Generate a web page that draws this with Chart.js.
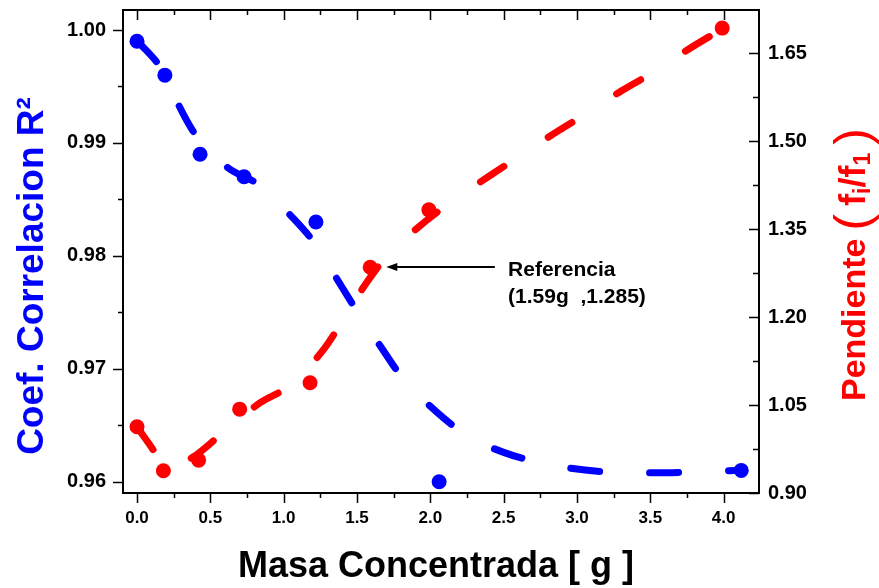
<!DOCTYPE html>
<html>
<head>
<meta charset="utf-8">
<script src="https://cdn.jsdelivr.net/npm/chart.js@4.4.1/dist/chart.umd.min.js"></script>
<style>
  html, body { margin: 0; padding: 0; background: #fff; }
  #wrap { width: 879px; height: 588px; position: relative; }
</style>
</head>
<body>
<div id="wrap"><canvas id="grafico"></canvas></div>
<script>
// datos
const xTicks = [0, 0.5, 1, 1.5, 2, 2.5, 3, 3.5, 4];
const leftTicks = [0.96, 0.97, 0.98, 0.99, 1.00];
const rightTicks = [0.90, 1.05, 1.20, 1.35, 1.50, 1.65];

// Coef. correlacion R2 (puntos azules)
const r2X = [0, 0.19, 0.43, 0.73, 1.22, 2.06, 4.12];
const r2Y = [0.999, 0.996, 0.989, 0.987, 0.983, 0.960, 0.961];
// curva azul (trazos)
const r2FitX = [0, 0.19, 0.29, 0.40, 0.62, 0.83, 1.06, 1.23, 1.38, 1.51, 1.67, 1.81, 2.05, 2.26, 2.50, 2.71, 2.95, 3.16, 3.40, 3.61, 3.85, 4.12];
const r2FitY = [0.9991, 0.9961, 0.9932, 0.9907, 0.9878, 0.9863, 0.9834, 0.9808, 0.9776, 0.9749, 0.9718, 0.9692, 0.9661, 0.9640, 0.9626, 0.9618, 0.9612, 0.9609, 0.9608, 0.9608, 0.9609, 0.9610];

// Pendiente fi/f1 (puntos rojos)
const pendX = [0, 0.18, 0.42, 0.70, 1.18, 1.59, 1.99, 3.99];
const pendY = [1.013, 0.938, 0.956, 1.043, 1.088, 1.285, 1.383, 1.693];
// curva roja (trazos)
const pendFitX = [0, 0.14, 0.18, 0.38, 0.59, 0.84, 1.04, 1.27, 1.40, 1.56, 1.71, 1.96, 2.16, 2.41, 2.61, 2.88, 3.05, 3.31, 3.51, 3.76, 4.00];
const pendFitY = [1.013, 0.961, 0.940, 0.961, 1.004, 1.054, 1.083, 1.144, 1.193, 1.257, 1.306, 1.362, 1.400, 1.442, 1.475, 1.519, 1.545, 1.587, 1.616, 1.657, 1.693];

// anotacion
const refLines = ["Referencia", "(1.59g  ,1.285)"];
const refArrowTip = [1.70, 1.285];
const refArrowTail = [2.44, 1.285];
const refTextX = 2.53;

const AZUL = "#0000ff";
const ROJO = "#ff0000";
const FUENTE = "'Liberation Sans', Arial, sans-serif";

function pares(xs, ys) {
  return xs.map((x, i) => ({ x: x, y: ys[i] }));
}

function fijarTicks(valores) {
  return function (scale) {
    scale.ticks = valores.map(v => ({ value: v }));
  };
}

// marco, ticks menores, titulos y anotacion
const decoracion = {
  id: "decoracion",
  afterDraw(chart) {
    const ctx = chart.ctx;
    const a = chart.chartArea;
    const sx = chart.scales.x, sl = chart.scales.yL, sr = chart.scales.yR;
    ctx.save();
    ctx.strokeStyle = "#000";
    ctx.lineWidth = 2;
    ctx.strokeRect(a.left, a.top, a.right - a.left, a.bottom - a.top);

    ctx.lineWidth = 1.5;
    ctx.beginPath();
    // eje x: abajo hacia fuera, arriba hacia dentro
    for (let v = 0; v <= 4.001; v += 0.25) {
      const px = Math.round(sx.getPixelForValue(v)) + 0.5;
      const mayor = Math.abs(v * 2 - Math.round(v * 2)) < 1e-6;
      const len = mayor ? 10 : 5;
      ctx.moveTo(px, a.bottom); ctx.lineTo(px, a.bottom + len);
      ctx.moveTo(px, a.top); ctx.lineTo(px, a.top + len);
    }
    // eje izquierdo: hacia fuera
    for (let i = 0; i <= 8; i++) {
      const v = 0.96 + i * 0.005;
      const py = Math.round(sl.getPixelForValue(v)) + 0.5;
      const len = i % 2 === 0 ? 10 : 5;
      ctx.moveTo(a.left, py); ctx.lineTo(a.left - len, py);
    }
    // eje derecho: hacia dentro
    for (let i = 0; i <= 10; i++) {
      const v = 0.90 + i * 0.075;
      const py = Math.round(sr.getPixelForValue(v)) + 0.5;
      const len = i % 2 === 0 ? 10 : 6;
      ctx.moveTo(a.right, py); ctx.lineTo(a.right - len, py);
    }
    ctx.stroke();

    // titulo eje x
    ctx.fillStyle = "#000";
    ctx.font = "bold 36px " + FUENTE;
    ctx.textAlign = "center";
    ctx.textBaseline = "alphabetic";
    ctx.fillText("Masa Concentrada [ g ]", 436, 577);

    // titulo eje izquierdo
    ctx.save();
    ctx.translate(43, 276);
    ctx.rotate(-Math.PI / 2);
    ctx.fillStyle = AZUL;
    ctx.font = "bold 37px " + FUENTE;
    ctx.textAlign = "center";
    ctx.fillText("Coef. Correlacion R\u00B2", 0, 0);
    ctx.restore();

    // titulo eje derecho con subindices
    ctx.save();
    ctx.translate(865, 401);
    ctx.rotate(-Math.PI / 2);
    ctx.fillStyle = ROJO;
    ctx.textAlign = "left";
    const partes = [
      { t: "Pendiente", f: "bold 34px " + FUENTE, dy: 0, gap: 8 },
      { t: "(", f: "50px " + FUENTE, dy: 4, gap: 8 },
      { t: "f", f: "bold 36px " + FUENTE, dy: 0, gap: 0 },
      { t: "i", f: "bold 23px " + FUENTE, dy: 5, gap: 0 },
      { t: "/f", f: "bold 36px " + FUENTE, dy: 0, gap: 0 },
      { t: "1", f: "bold 23px " + FUENTE, dy: 5, gap: 8 },
      { t: ")", f: "50px " + FUENTE, dy: 4, gap: 0 }
    ];
    let cx = 0;
    partes.forEach(p => {
      ctx.font = p.f;
      ctx.fillText(p.t, cx, p.dy);
      cx += ctx.measureText(p.t).width + p.gap;
    });
    ctx.restore();

    // flecha de referencia
    const tipX = sx.getPixelForValue(refArrowTip[0]);
    const tipY = Math.round(sr.getPixelForValue(refArrowTip[1]));
    const tailX = sx.getPixelForValue(refArrowTail[0]);
    ctx.strokeStyle = "#000";
    ctx.fillStyle = "#000";
    ctx.lineWidth = 2;
    ctx.beginPath();
    ctx.moveTo(tailX, tipY); ctx.lineTo(tipX + 8, tipY);
    ctx.stroke();
    ctx.beginPath();
    ctx.moveTo(tipX, tipY);
    ctx.lineTo(tipX + 11, tipY - 4);
    ctx.lineTo(tipX + 11, tipY + 4);
    ctx.closePath();
    ctx.fill();

    ctx.font = "bold 21px " + FUENTE;
    ctx.textAlign = "left";
    const txX = sx.getPixelForValue(refTextX);
    ctx.fillText(refLines[0], txX, tipY + 9);
    ctx.fillText(refLines[1], txX, tipY + 36);
    ctx.restore();
  }
};

const fuenteTicks = { family: FUENTE, weight: "bold", size: 20 };

function sinRellenoY(ancho) {
  return function (s) {
    s.width = ancho;
    s.paddingTop = 0;
    s.paddingBottom = 0;
  };
}

new Chart(document.getElementById("grafico"), {
  type: "scatter",
  data: {
    datasets: [
      {
        label: "R2 puntos",
        data: pares(r2X, r2Y),
        yAxisID: "yL",
        backgroundColor: AZUL,
        borderColor: AZUL,
        pointRadius: 7.5,
        pointBorderWidth: 0,
        showLine: false
      },
      {
        label: "Pendiente puntos",
        data: pares(pendX, pendY),
        yAxisID: "yR",
        backgroundColor: ROJO,
        borderColor: ROJO,
        pointRadius: 7.5,
        pointBorderWidth: 0,
        showLine: false
      },
      {
        label: "R2 ajuste",
        data: pares(r2FitX, r2FitY),
        yAxisID: "yL",
        borderColor: AZUL,
        borderWidth: 7,
        borderDash: [29, 50],
        borderCapStyle: "round",
        pointRadius: 0,
        showLine: true,
        fill: false,
        cubicInterpolationMode: "monotone"
      },
      {
        label: "Pendiente ajuste",
        data: pares(pendFitX, pendFitY),
        yAxisID: "yR",
        borderColor: ROJO,
        borderWidth: 7,
        borderDash: [28, 53],
        borderCapStyle: "round",
        pointRadius: 0,
        showLine: true,
        fill: false,
        cubicInterpolationMode: "monotone"
      }
    ]
  },
  options: {
    responsive: true,
    maintainAspectRatio: false,
    animation: false,
    layout: { padding: { top: 10, left: 0, right: 0, bottom: 0 } },
    plugins: {
      legend: { display: false },
      tooltip: { enabled: false }
    },
    scales: {
      x: {
        type: "linear",
        min: -0.0955,
        max: 4.241,
        afterBuildTicks: fijarTicks(xTicks),
        afterFit: s => { s.height = 95; s.paddingLeft = 0; s.paddingRight = 0; },
        grid: { display: false, drawTicks: false },
        border: { display: false },
        ticks: {
          autoSkip: false,
          maxRotation: 0,
          padding: 15,
          color: "#000",
          font: { family: FUENTE, weight: "bold", size: 17 },
          callback: v => Number(v).toFixed(1)
        }
      },
      yL: {
        type: "linear",
        position: "left",
        min: 0.959,
        max: 1.00177,
        afterBuildTicks: fijarTicks(leftTicks),
        afterFit: sinRellenoY(123),
        grid: { display: false, drawTicks: false },
        border: { display: false },
        ticks: {
          padding: 17,
          color: "#000",
          font: fuenteTicks,
          callback: v => Number(v).toFixed(2)
        }
      },
      yR: {
        type: "linear",
        position: "right",
        min: 0.90,
        max: 1.7239,
        afterBuildTicks: fijarTicks(rightTicks),
        afterFit: sinRellenoY(120),
        grid: { display: false, drawTicks: false },
        border: { display: false },
        ticks: {
          padding: 9,
          color: "#000",
          font: fuenteTicks,
          callback: v => Number(v).toFixed(2)
        }
      }
    }
  },
  plugins: [decoracion]
});
</script>
</body>
</html>
